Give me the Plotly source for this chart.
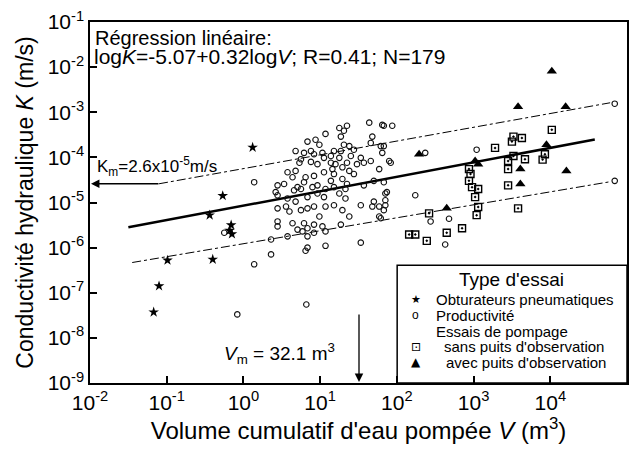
import numpy as np
import plotly.graph_objects as go

# ---- data (log10 of V in m3, log10 of K in m/s) ----
# Productivite tests
log_v_prod = [1.64, 1.81, 1.25, 1.35, 1.31, 1.07, 1.27, 1.68, 1.66, 1.79, 0.835, 0.94, 0.99, 0.88,
              0.79, 0.68, 0.92, 1.03, 1.18, 1.31, 1.38, 1.44, 1.27, 1.14, 1.25, 1.40, 1.53, 0.75,
              0.73, 0.88, 0.965, 1.05, 1.14, 1.20, 1.35, 1.48, 1.57, 1.66, 1.29, 1.16, 1.05, 1.18,
              1.38, 1.44, 0.575, 0.68, 0.64, 0.81, 0.92, 0.79, 0.965, 1.14, 1.29, 1.35, 0.53, 0.445,
              0.705, 1.57, 1.70, 1.77, 1.81,
              0.66, 0.75, 0.90, 1.07, 1.18, 1.33, 0.445, 0.575, 0.68, 0.835, 0.965, 1.05, 1.25, 1.33,
              0.445, 0.555, 0.60, 0.75, 0.835, 0.92, 1.07, 1.18, 1.29, 1.38, 1.53, 1.68, 1.77, 1.70,
              0.445, 0.445, 0.64, 0.79, 0.835, 0.92, 0.99, 1.03, 1.07, 0.77, 0.835, 0.705, 0.575, 0.36,
              1.27, 0.92, 0.36, 0.81, 1.07, 1.53,
              0.14, 0.42, 1.83, 1.94, 1.83, 1.92, 1.87, 1.77, 1.83, 1.85, 1.79, 0.835,
              1.90, 1.83, 2.24, 1.85, 1.85, 2.44, 2.68, 2.63, 3.04, 2.37,
              0.14, -0.08, 0.82, -0.25, 4.84, 4.84]
log_k_prod = [-3.23, -3.28, -3.35, -3.30, -3.41, -3.48, -3.54, -3.54, -3.68, -3.75, -3.65, -3.61, -3.72, -3.86,
              -3.90, -3.86, -3.93, -3.90, -3.86, -3.72, -3.75, -3.83, -3.86, -3.97, -4.01, -3.97, -4.01, -4.04,
              -4.12, -4.10, -4.15, -4.01, -4.12, -4.15, -4.12, -4.15, -4.12, -4.08, -4.22, -4.26, -4.33, -4.37,
              -4.30, -4.37, -4.33, -4.30, -4.44, -4.44, -4.41, -4.55, -4.62, -4.52, -4.48, -4.59, -4.59, -4.62,
              -4.66, -4.62, -4.52, -4.26, -3.90,
              -4.73, -4.70, -4.66, -4.70, -4.66, -4.70, -4.84, -4.91, -4.98, -4.88, -4.80, -4.88, -4.80, -4.91,
              -5.13, -5.09, -5.20, -5.17, -5.13, -5.09, -5.09, -5.06, -5.17, -5.31, -5.06, -5.09, -5.31, -4.98,
              -5.42, -5.53, -5.46, -5.46, -5.57, -5.49, -5.31, -5.53, -5.64, -5.64, -5.75, -5.60, -5.75, -5.82,
              -5.49, -5.67, -6.15, -6.07, -5.96, -5.89,
              -4.55, -4.77, -3.30, -3.30, -3.75, -4.12, -4.77, -5.09, -5.17, -5.06, -5.35, -6.00,
              -4.08, -4.55, -4.84, -4.80, -4.95, -5.42, -5.36, -5.93, -3.83, -3.90,
              -6.37, -7.48, -7.26, -5.67, -2.81, -4.52]

# Packer (obturateurs pneumatiques) tests
log_v_star = [-0.99, -1.10, -1.17, -0.40, -0.27, -0.16, -0.18, -0.15, -0.44, 0.12]
log_k_star = [-6.28, -6.85, -7.43, -6.26, -4.85, -5.50, -5.62, -5.70, -5.28, -3.78]

# Pumping tests without observation well
log_v_sans = [2.42, 2.16, 2.24, 2.39, 2.65, 2.85, 3.28, 2.94, 2.96, 2.94, 2.98, 3.06, 3.02, 3.06,
              3.04, 4.02, 3.52, 3.63, 3.50, 3.52, 3.67, 3.45, 3.45, 3.45, 3.93, 3.58, 3.90]
log_k_sans = [-5.24, -5.71, -5.71, -5.85, -5.67, -5.57, -3.79, -4.26, -4.37, -4.52, -4.66, -4.70, -4.88, -5.10,
              -5.28, -3.39, -3.54, -3.57, -3.65, -3.97, -4.04, -4.08, -4.26, -4.62, -3.93, -5.13, -4.05]

# Pumping tests with observation well
log_v_avec = [4.02, 3.58, 4.20, 3.95, 3.61, 3.61, 4.21, 2.29, 3.02, 3.06, 2.65]
log_k_avec = [-2.09, -2.88, -2.88, -3.72, -4.26, -4.59, -4.30, -3.93, -4.08, -4.15, -5.13]

# Regression logK = a + b logV and its band
reg_a, reg_b = -5.07, 0.32
reg_logv = [-1.5, 4.58]
upper_logv, upper_logk = [-1.1, 4.78], [-4.585, -2.79]
lower_logv, lower_logk = [-1.45, 4.78], [-6.33, -4.54]

K_m = 2.6e-5      # m/s
V_m = 32.1        # m3

x_ticks = [-2, -1, 0, 1, 2, 3, 4, 5]
y_ticks = [-9, -8, -7, -6, -5, -4, -3, -2, -1]


def p10(a):
    return [10.0 ** v for v in a]


fig = go.Figure()

band = dict(color="black", width=1, dash="9px,3px,3px,3px")
fig.add_trace(go.Scatter(x=p10(upper_logv), y=p10(upper_logk), mode="lines", line=band))
fig.add_trace(go.Scatter(x=p10(lower_logv), y=p10(lower_logk), mode="lines", line=band))
fig.add_trace(go.Scatter(x=p10(reg_logv), y=[10 ** (reg_a + reg_b * v) for v in reg_logv],
                         mode="lines", line=dict(color="black", width=2.5)))

fig.add_trace(go.Scatter(x=p10(log_v_prod), y=p10(log_k_prod), mode="markers",
                         marker=dict(symbol="circle-open", size=5.5, color="#111", line=dict(width=1.1))))
fig.add_trace(go.Scatter(x=p10(log_v_sans), y=p10(log_k_sans), mode="markers",
                         marker=dict(symbol="square-open-dot", size=7, color="black",
                                     line=dict(width=1.4, color="black"))))
fig.add_trace(go.Scatter(x=p10(log_v_avec), y=p10(log_k_avec), mode="markers",
                         marker=dict(symbol="triangle-up", size=9, color="black")))
fig.add_trace(go.Scatter(x=p10(log_v_star), y=p10(log_k_star), mode="markers",
                         marker=dict(symbol="star", size=8, color="black")))

font_main = "Liberation Sans, Arial, sans-serif"
axis_common = dict(
    type="log", showgrid=False, zeroline=False, showline=True, linecolor="black", linewidth=1.5,
    mirror=True, ticks="inside", ticklen=7, tickwidth=1.5, tickcolor="black",
    tickfont=dict(size=21, color="black", family=font_main),
)
fig.update_xaxes(**axis_common, range=[-2, 5], tickvals=[10.0 ** t for t in x_ticks],
                 ticktext=[f"10<sup>{t}</sup>" for t in x_ticks],
                 title=dict(text="Volume cumulatif d'eau pompée <i>V</i> (m<sup>3</sup>)",
                            font=dict(size=24, color="black", family=font_main), standoff=6))
fig.update_yaxes(**axis_common, range=[-9, -1], tickvals=[10.0 ** t for t in y_ticks],
                 ticktext=[f"10<sup>{t}</sup>" for t in y_ticks],
                 title=dict(text="Conductivité hydraulique <i>K</i> (m/s)",
                            font=dict(size=23, color="black", family=font_main), standoff=8))

ann = []
def txt(x, y, s, size, xanchor="left", family=font_main):
    ann.append(dict(xref="paper", yref="paper", x=x, y=y, text=s, showarrow=False,
                    xanchor=xanchor, yanchor="middle", font=dict(size=size, color="black", family=family)))

txt(0.005, 0.957, "Régression linéaire:", 20)
txt(0.003, 0.905, "log<i>K</i>=-5.07+0.32log<i>V</i>; R=0.41; N=179", 21)
txt(0.009, 0.60, "K<sub>m</sub>=2.6x10<sup>-5</sup>m/s", 17)
txt(0.245, 0.082, "<i>V</i><sub>m</sub> = 32.1 m<sup>3</sup>", 19)

# Key
txt(0.785, 0.288, "Type d'essai", 19, xanchor="center")
rows = [0.231, 0.1875, 0.144, 0.1005, 0.057]
txt(0.640, rows[0], "Obturateurs pneumatiques", 15)
txt(0.640, rows[1], "Productivité", 15)
txt(0.640, rows[2], "Essais de pompage", 15)
txt(0.656, rows[3], "sans puits d'observation", 15)
txt(0.660, rows[4], "avec puits d'observation", 15)
glyph = "DejaVu Sans"
txt(0.607, rows[0], "★", 11, xanchor="center", family=glyph)
txt(0.607, rows[1], "o", 12, xanchor="center", family=font_main)
txt(0.607, rows[3], "⊡", 12, xanchor="center", family=glyph)
txt(0.607, rows[4], "▲", 12, xanchor="center", family=glyph)

# Km and Vm arrows
ann.append(dict(x=-2, y=np.log10(K_m), xref="x", yref="y", ax=70, ay=0, text="",
                showarrow=True, arrowhead=2, arrowsize=1.3, arrowwidth=1.3, arrowcolor="black", standoff=1))
ann.append(dict(x=np.log10(V_m), y=-9, xref="x", yref="y", ax=0, ay=-70, text="",
                showarrow=True, arrowhead=2, arrowsize=1.3, arrowwidth=1.3, arrowcolor="black", standoff=1))

fig.update_layout(
    width=637, height=451, margin=dict(l=90, r=8, t=15, b=68),
    paper_bgcolor="white", plot_bgcolor="white", showlegend=False,
    annotations=ann,
    shapes=[dict(type="rect", xref="paper", yref="paper", x0=0.572, x1=1.0, y0=0.0, y1=0.326,
                 line=dict(color="black", width=1.5), fillcolor="white", layer="below")],
)

fig.write_html("out.html")
